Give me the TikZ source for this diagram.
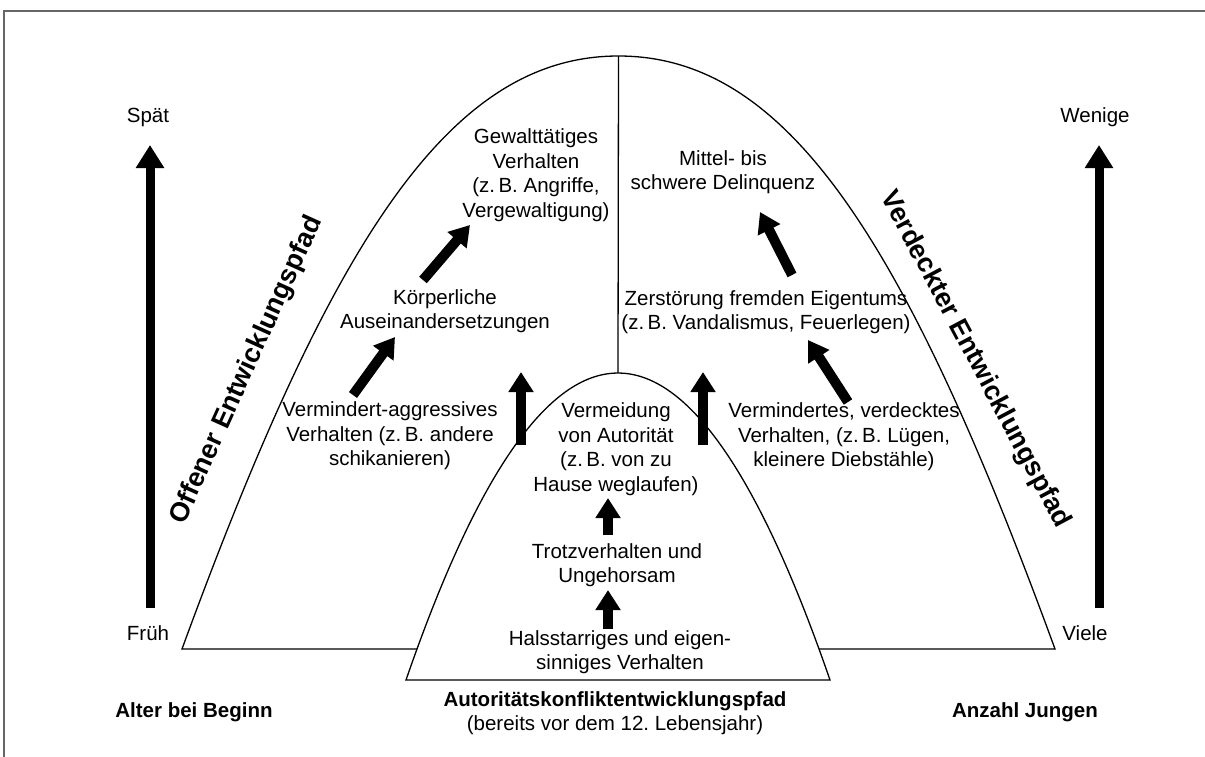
\documentclass[tikz,border=0pt]{standalone}
\usepackage{fontspec}
\setmainfont{Liberation Sans}
\usetikzlibrary{arrows.meta}
\frenchspacing
\begin{document}
\begin{tikzpicture}[x=1pt,y=-1pt,
  txt/.style={align=center,inner sep=0pt,font=\fontsize{20.5}{24.5}\selectfont},
  bld/.style={align=center,inner sep=0pt,font=\fontsize{20.5}{24.5}\selectfont\bfseries},
  pathlbl/.style={inner sep=0pt,font=\fontsize{27}{30}\selectfont\bfseries},
  bigarrow/.style={line width=9pt,-{Triangle[length=23pt,width=27pt]}},
  smallarrow/.style={line width=10pt,-{Triangle[length=20pt,width=24pt]}},
  outline/.style={line width=1.3pt},
  frame/.style={draw=black!60,line width=1.5pt}
]
\useasboundingbox (0,0) rectangle (1205,756);
\fill[white] (0,0) rectangle (1205,756);
% frame (extends beyond the picture at right and bottom)
\draw[frame] (1215,11) -- (4,11) -- (4,766);

% big arch
\coordinate (apex) at (618.5,56);
\coordinate (sapex) at (618,373);
\draw[outline] (182,649) .. controls (332,239) and (450,56) .. (apex)
   .. controls (787,56) and (905,239) .. (1055,649) -- cycle;
\draw[outline] (apex) -- (sapex);
% small arch
\draw[outline,fill=white] (406,680) .. controls (547.3,270.7) and (688.7,270.7) .. (830,680) -- cycle;

% side scales
\node[txt] (spaet) at (148,117) {Spät};
\node[txt] (frueh) at (148,633) {Früh};
\node[txt] (wenige) at (1095,117) {Wenige};
\node[txt] (viele) at (1085,633) {Viele};
\coordinate (la0) at (150,608);
\coordinate (la1) at (150,145);
\coordinate (ra0) at (1099,608);
\coordinate (ra1) at (1099,145);
\draw[bigarrow] (la0) -- (la1);
\draw[bigarrow] (ra0) -- (ra1);

\node[bld] (alter) at (194,712) {Alter bei Beginn};
\node[bld] (anzahl) at (1025,712) {Anzahl Jungen};
\node[bld] (auto) at (615,701) {Autoritätskonfliktentwicklungspfad};
\node[txt] (bereits) at (615,725) {(bereits vor dem 12. Lebensjahr)};

% path labels
\node[pathlbl,rotate=65.7] (offen) at (247,370) {Offener Entwicklungspfad};
\node[pathlbl,rotate=-62] (verdeckt) at (975,360) {Verdeckter Entwicklungspfad};

% texts
\node[txt] (gewalt) at (536,175) {Gewalttätiges\\Verhalten\\(z.\,B. Angriffe,\\Vergewaltigung)};
\node[txt] (mittel) at (723,172) {Mittel- bis\\schwere Delinquenz};
\node[txt] (koerper) at (445,311) {Körperliche\\Auseinandersetzungen};
\node[txt] (zerst) at (766,312) {Zerstörung fremden Eigentums\\(z.\,B. Vandalismus, Feuerlegen)};
\node[txt] (vermagg) at (390,436) {Vermindert-aggressives\\Verhalten (z.\,B. andere\\schikanieren)};
\node[txt] (vermverd) at (844,437) {Vermindertes, verdecktes\\Verhalten, (z.\,B. Lügen,\\kleinere Diebstähle)};
\node[txt] (vermeid) at (616,449) {Vermeidung\\von Autorität\\(z.\,B. von zu\\Hause weglaufen)};
\node[txt] (trotz) at (617,565) {Trotzverhalten und\\Ungehorsam};
\node[txt] (hals) at (620,652) {Halsstarriges und eigen-\\sinniges Verhalten};

% inner arrows
\coordinate (a1t) at (608,629); \coordinate (a1h) at (608,590);
\coordinate (a2t) at (608,535); \coordinate (a2h) at (608,498);
\coordinate (a3t) at (521,445); \coordinate (a3h) at (521,372);
\coordinate (a4t) at (703,445); \coordinate (a4h) at (703,372);
\coordinate (a5t) at (353,395); \coordinate (a5h) at (395,337);
\coordinate (a6t) at (423,280); \coordinate (a6h) at (470,225);
\coordinate (a7t) at (848,402); \coordinate (a7h) at (808,340);
\coordinate (a8t) at (792,275); \coordinate (a8h) at (760,212);
\foreach \i in {1,...,8} {\draw[smallarrow] (a\i t) -- (a\i h);}
\end{tikzpicture}
\end{document}
